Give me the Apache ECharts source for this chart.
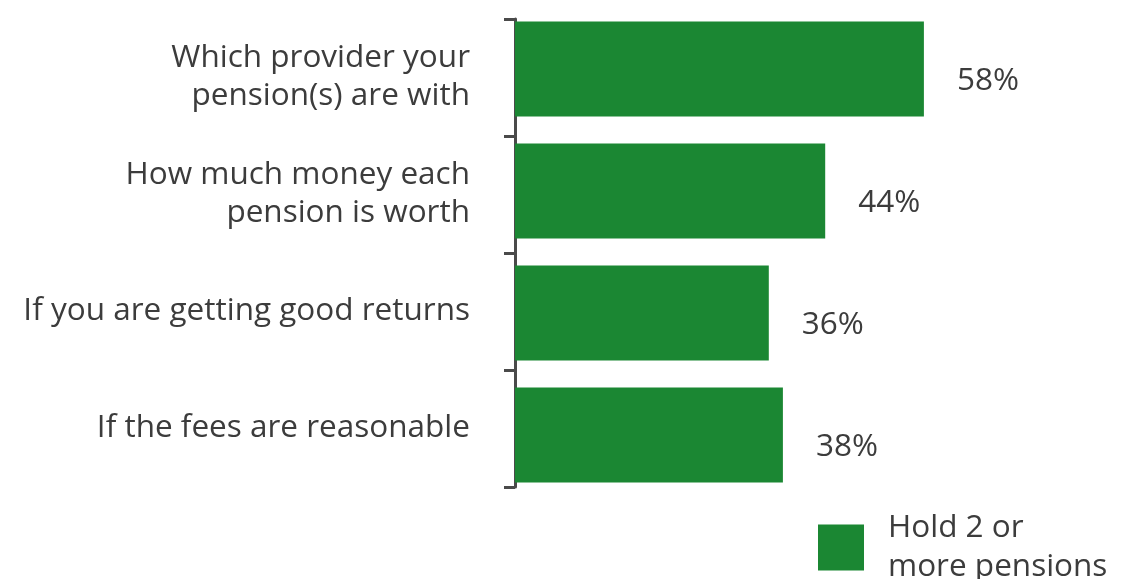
<!DOCTYPE html>
<html>
<head>
<meta charset="utf-8">
<script src="https://cdn.jsdelivr.net/npm/echarts@6/dist/echarts.min.js"></script>
<style>
  html, body { margin: 0; padding: 0; background: #ffffff; }
  #chart { width: 1135px; height: 579px; }
</style>
</head>
<body>
<div id="chart"></div>
<script>
// Survey answers: what people with several pensions know about them
const categories = [
  'Which provider your\npension(s) are with',
  'How much money each\npension is worth',
  'If you are getting good returns',
  'If the fees are reasonable'
];
const seriesName = 'Hold 2 or\nmore pensions';
const values = [58, 44, 36, 38];

const textColor = '#3c3c3c';
const axisColor = '#4a4a4a';
const barColor = '#1b8733';
const fontFamily = '"Open Sans", "Noto Sans", sans-serif';
const fontSize = 31.5;

const chart = echarts.init(document.getElementById('chart'));
chart.setOption({
  animation: false,
  textStyle: { fontFamily: fontFamily },
  // grid 0 carries the bars, grid 1 carries the bracket-style category axis
  grid: [
    { left: 515, top: 8, right: 197, bottom: 83, containLabel: false },
    { left: 515, top: 19, right: 197, bottom: 92, containLabel: false }
  ],
  legend: {
    data: [seriesName],
    left: 813,
    top: 497,
    itemWidth: 46,
    itemHeight: 46,
    itemGap: 0,
    icon: 'rect',
    textStyle: {
      color: textColor, fontSize: fontSize, lineHeight: 39,
      padding: [0, 0, 13, 19], fontFamily: fontFamily
    }
  },
  xAxis: [
    { type: 'value', gridIndex: 0, min: 0, max: 60, show: false },
    { type: 'value', gridIndex: 1, min: 0, max: 60, show: false }
  ],
  yAxis: [
    {
      type: 'category',
      gridIndex: 0,
      inverse: true,
      data: categories,
      show: false
    },
    {
      type: 'category',
      gridIndex: 1,
      inverse: true,
      data: categories,
      axisLine: { show: true, lineStyle: { color: axisColor, width: 3 } },
      axisTick: { show: true, length: 11, lineStyle: { color: axisColor, width: 3 } },
      axisLabel: {
        color: textColor,
        fontSize: fontSize,
        lineHeight: 38,
        margin: 45,
        align: 'right',
        fontFamily: fontFamily
      }
    }
  ],
  series: [{
    name: seriesName,
    type: 'bar',
    xAxisIndex: 0,
    yAxisIndex: 0,
    data: values,
    barWidth: 95,
    itemStyle: { color: barColor },
    label: {
      show: true,
      position: 'right',
      distance: 33,
      offset: [0, 12],
      formatter: '{c}%',
      color: textColor,
      fontSize: fontSize,
      fontFamily: fontFamily
    }
  }]
});
</script>
</body>
</html>
